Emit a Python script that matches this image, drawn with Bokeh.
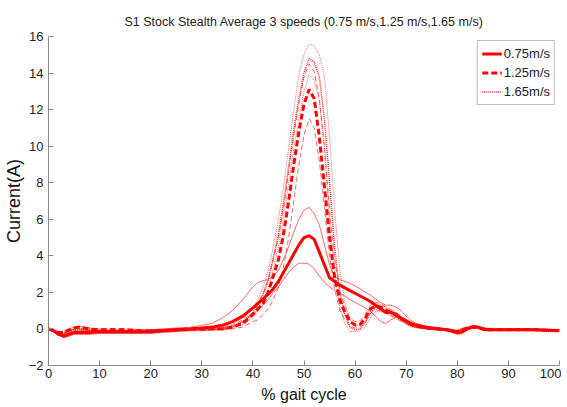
from bokeh.plotting import figure
from bokeh.models import Range1d, FixedTicker, Legend, LegendItem
from bokeh.embed import file_html
from bokeh.resources import INLINE

# % gait cycle sample positions
x = [0, 1, 2, 3, 4, 5, 6, 7, 8,
     10, 12, 15, 18, 20, 22, 25, 28, 30, 32, 34, 36, 38, 40,
     41, 42, 43, 44, 45, 46, 47, 48, 49, 50,
     51, 52, 53, 54, 55, 56, 57, 58, 59, 60,
     61, 62, 63, 64, 65, 66, 67, 68, 69, 70,
     71, 72, 74, 76, 78, 80, 81, 82, 83, 84, 85, 86, 88, 90, 95, 100]

# 0.75 m/s mean and band
v075 = [0, -0.1, -0.3, -0.4, -0.3, -0.2, -0.2, -0.2, -0.2,
        -0.15, -0.15, -0.15, -0.15, -0.15, -0.1, -0.05, 0.0, 0.05, 0.1, 0.2, 0.4, 0.7, 1.15,
        1.4, 1.65, 1.9, 2.2, 2.6, 3.1, 3.6, 4.1, 4.6, 5.0,
        5.1, 4.9, 4.2, 3.5, 2.8, 2.6, 2.4, 2.25, 2.1, 1.95,
        1.8, 1.65, 1.5, 1.3, 1.1, 0.9, 0.9, 0.8, 0.6, 0.45,
        0.3, 0.2, 0.08, 0.02, -0.05, -0.2, -0.15, 0.0, 0.1, 0.1, 0.0, -0.05, -0.05, -0.05, -0.05, -0.1]
v075_hi = [0, -0.05, -0.2, -0.3, -0.2, -0.1, -0.1, -0.1, -0.1,
           -0.1, -0.1, -0.1, -0.1, -0.05, 0.0, 0.05, 0.1, 0.2, 0.3, 0.6, 1.0, 1.6, 2.3,
           2.55, 2.65, 2.7, 2.9, 3.2, 3.8, 4.5, 5.3, 6.0, 6.5,
           6.65, 6.3, 5.7, 4.6, 3.5, 2.85, 2.7, 2.6, 2.5, 2.35,
           2.2, 2.0, 1.85, 1.65, 1.45, 1.3, 1.3, 1.2, 1.0, 0.7,
           0.45, 0.3, 0.15, 0.05, 0.0, -0.1, -0.05, 0.05, 0.15, 0.15, 0.05, 0.0, -0.02, -0.02, -0.02, -0.05]
v075_lo = [0, -0.15, -0.35, -0.45, -0.4, -0.3, -0.3, -0.3, -0.3,
           -0.25, -0.25, -0.25, -0.25, -0.25, -0.2, -0.15, -0.1, -0.1, -0.05, 0.0, 0.1, 0.4, 0.8,
           1.05, 1.3, 1.6, 2.0, 2.3, 2.7, 3.1, 3.4, 3.6, 3.6,
           3.55, 3.3, 2.9, 2.55, 2.3, 2.1, 1.95, 1.8, 1.6, 1.45,
           1.3, 1.15, 0.95, 0.7, 0.4, 0.3, 0.5, 0.65, 0.55, 0.3,
           0.15, 0.08, 0.0, -0.05, -0.1, -0.3, -0.25, -0.05, 0.05, 0.05, -0.05, -0.08, -0.08, -0.08, -0.08, -0.12]

# 1.25 m/s mean and band
v125 = [0, -0.1, -0.2, -0.2, -0.05, 0.05, 0.1, 0.05, 0.0,
        -0.05, -0.05, -0.05, -0.1, -0.1, -0.1, -0.05, 0.0, 0.0, 0.0, 0.0, 0.1, 0.3, 0.8,
        1.1, 1.4, 2.0, 2.9, 3.8, 5.2, 7.0, 9.0, 10.8, 12.3,
        13.1, 12.6, 10.5, 7.8, 5.0, 2.8, 1.6, 0.9, 0.4, 0.22,
        0.25, 0.6, 1.1, 1.25, 1.2, 1.05, 0.9, 0.75, 0.55, 0.4,
        0.25, 0.15, 0.05, 0.0, -0.05, -0.15, -0.05, 0.05, 0.1, 0.08, 0.0, -0.05, -0.05, -0.05, -0.05, -0.1]
v125_hi = [0, -0.05, -0.15, -0.15, 0.0, 0.1, 0.15, 0.1, 0.05,
           0.0, 0.0, 0.0, -0.05, -0.05, -0.05, 0.0, 0.05, 0.05, 0.05, 0.05, 0.2, 0.5, 1.1,
           1.5, 1.9, 2.7, 3.8, 5.0, 6.6, 8.6, 10.6, 12.3, 13.8,
           14.5, 14.1, 12.6, 10.0, 6.5, 3.8, 2.1, 1.2, 0.6, 0.4,
           0.45, 0.8, 1.3, 1.45, 1.4, 1.2, 1.05, 0.9, 0.65, 0.5,
           0.3, 0.2, 0.1, 0.05, 0.0, -0.1, 0.0, 0.1, 0.15, 0.12, 0.05, 0.0, -0.02, -0.02, -0.02, -0.05]
v125_lo = [0, -0.15, -0.25, -0.25, -0.1, 0.0, 0.0, -0.05, -0.1,
           -0.1, -0.1, -0.1, -0.15, -0.15, -0.15, -0.1, -0.05, -0.05, -0.05, -0.05, 0.0, 0.1, 0.4,
           0.5, 0.8, 1.1, 1.6, 2.3, 3.4, 5.0, 7.0, 9.0, 10.6,
           11.5, 11.0, 9.2, 6.6, 4.0, 2.2, 1.0, 0.5, 0.15, 0.05,
           0.1, 0.4, 0.85, 1.05, 1.0, 0.9, 0.75, 0.6, 0.45, 0.3,
           0.2, 0.1, 0.0, -0.05, -0.1, -0.2, -0.1, 0.0, 0.05, 0.03, -0.05, -0.08, -0.08, -0.08, -0.08, -0.12]

# 1.65 m/s mean and band
v165 = [0, -0.1, -0.2, -0.25, -0.15, -0.05, 0.0, -0.05, -0.05,
        -0.1, -0.1, -0.1, -0.1, -0.1, -0.1, -0.05, 0.0, 0.0, 0.05, 0.05, 0.15, 0.4, 0.9,
        1.3, 1.9, 2.7, 3.9, 5.2, 6.9, 8.9, 10.9, 12.6, 14.0,
        14.8, 14.6, 13.8, 11.5, 8.0, 4.5, 2.0, 0.8, 0.1, -0.05,
        0.0, 0.35, 0.9, 1.15, 1.15, 1.0, 0.85, 0.7, 0.5, 0.35,
        0.2, 0.1, 0.05, 0.0, -0.05, -0.1, 0.0, 0.1, 0.15, 0.1, 0.05, 0.0, -0.02, -0.02, -0.02, -0.05]
v165_hi = [0, -0.05, -0.15, -0.2, -0.1, 0.0, 0.05, 0.0, 0.0,
           -0.05, -0.05, -0.05, -0.05, -0.05, -0.05, 0.0, 0.05, 0.05, 0.1, 0.1, 0.25, 0.6, 1.2,
           1.6, 2.3, 3.2, 4.5, 6.0, 7.8, 9.9, 12.0, 13.9, 15.0,
           15.6, 15.5, 15.0, 13.8, 10.5, 6.5, 3.3, 1.4, 0.5, 0.2,
           0.25, 0.6, 1.1, 1.35, 1.35, 1.2, 1.05, 0.9, 0.65, 0.5,
           0.3, 0.2, 0.1, 0.05, 0.0, -0.05, 0.05, 0.15, 0.2, 0.15, 0.1, 0.05, 0.02, 0.02, 0.02, -0.02]
v165_lo = [0, -0.15, -0.25, -0.3, -0.2, -0.1, -0.05, -0.1, -0.1,
           -0.15, -0.15, -0.15, -0.15, -0.15, -0.15, -0.1, -0.05, -0.05, 0.0, 0.0, 0.05, 0.25, 0.6,
           1.0, 1.5, 2.2, 3.3, 4.5, 6.1, 8.0, 9.9, 11.5, 13.0,
           13.9, 13.6, 12.5, 9.8, 6.0, 3.0, 1.2, 0.3, -0.15, -0.15,
           -0.1, 0.1, 0.6, 0.95, 0.95, 0.85, 0.7, 0.55, 0.4, 0.25,
           0.1, 0.05, 0.0, -0.05, -0.1, -0.2, -0.05, 0.05, 0.1, 0.05, 0.0, -0.05, -0.06, -0.06, -0.06, -0.1]

labels = ["0.75m/s", "1.25m/s", "1.65m/s"]
x_ticks = [0, 10, 20, 30, 40, 50, 60, 70, 80, 90, 100]
y_ticks = [-2, 0, 2, 4, 6, 8, 10, 12, 14, 16]

RED = "#ff0000"
FONT = "Liberation Sans"

p = figure(width=561, height=405, output_backend="svg", toolbar_location=None,
           x_range=Range1d(0, 100), y_range=Range1d(-2, 16),
           title="S1 Stock Stealth Average 3 speeds (0.75 m/s,1.25 m/s,1.65 m/s)",
           min_border_left=37, min_border_right=2, min_border_top=36, min_border_bottom=39)
p.outline_line_color = None
p.grid.visible = False
p.background_fill_color = "white"

p.title.align = "center"
p.title.text_font = FONT
p.title.text_font_size = "12.5px"
p.title.text_font_style = "normal"
p.title.text_color = "#222222"
p.title.standoff = 15

for ax in (p.xaxis[0], p.yaxis[0]):
    ax.axis_line_color = "#8a8a8a"
    ax.major_tick_line_color = "#8a8a8a"
    ax.major_tick_in = 5
    ax.major_tick_out = 0
    ax.minor_tick_line_color = None
    ax.major_label_text_font = FONT
    ax.major_label_text_font_size = "13px"
    ax.major_label_text_color = "#222222"
    ax.axis_label_text_font = FONT
    ax.axis_label_text_font_style = "normal"
    ax.axis_label_text_color = "#111111"
    ax.axis_label_text_line_height = 1.0
    ax.major_label_text_line_height = 1.0

p.xaxis[0].ticker = FixedTicker(ticks=x_ticks)
p.yaxis[0].ticker = FixedTicker(ticks=y_ticks)
p.xaxis.axis_label = "% gait cycle"
p.xaxis.axis_label_text_font_size = "16px"
p.xaxis.axis_label_standoff = 5
p.xaxis.major_label_standoff = 3
p.yaxis.axis_label = "Current(A)"
p.yaxis.axis_label_text_font_size = "18px"
p.yaxis.axis_label_standoff = 2
p.yaxis.major_label_standoff = 5

# bands
band_kw = dict(line_color=RED, line_alpha=0.75, line_width=0.8)
p.line(x, v075_lo, **band_kw)
p.line(x, v075_hi, **band_kw)
p.line(x, v125_lo, line_dash="5 3", **band_kw)
p.line(x, v125_hi, line_dash="5 3", **band_kw)
p.line(x, v165_lo, line_dash="1 1", **band_kw)
p.line(x, v165_hi, line_dash="1 1", **band_kw)

# means
r1 = p.line(x, v075, line_color=RED, line_width=3)
r2 = p.line(x, v125, line_color=RED, line_width=3, line_dash="6 3")
r3 = p.line(x, v165, line_color=RED, line_width=1.5, line_dash="1 1", line_alpha=0.85)

legend = Legend(items=[LegendItem(label=labels[0], renderers=[r1]),
                       LegendItem(label=labels[1], renderers=[r2]),
                       LegendItem(label=labels[2], renderers=[r3])],
                location="top_right")
legend.label_text_font = FONT
legend.label_text_font_size = "13px"
legend.label_text_color = "#222222"
legend.border_line_color = "#777777"
legend.border_line_width = 1
legend.background_fill_alpha = 1
legend.glyph_width = 20
legend.glyph_height = 17
legend.label_height = 17
legend.label_standoff = 2
legend.spacing = 2
legend.padding = 4
legend.margin = 4
p.add_layout(legend)

open("out.html", "w").write(file_html(p, INLINE))
